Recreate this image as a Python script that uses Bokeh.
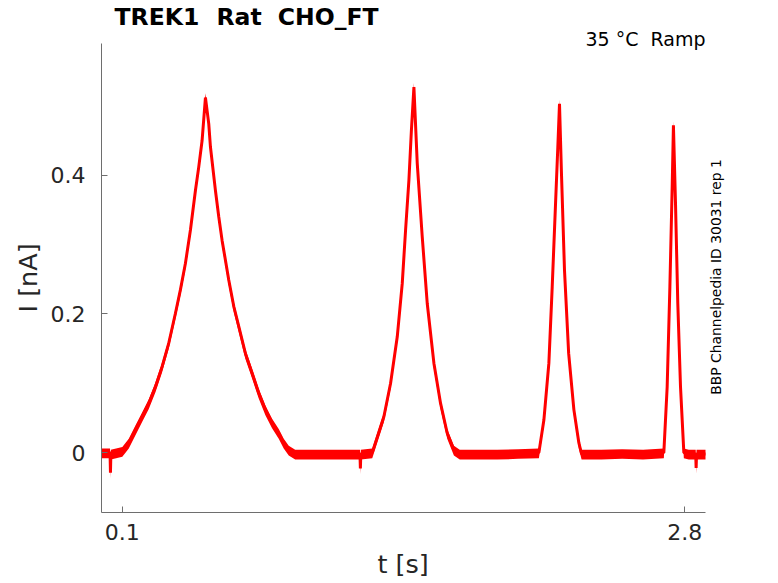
import numpy as np
from bokeh.plotting import figure
from bokeh.models import Range1d, FixedTicker, Label, Title
from bokeh.embed import file_html
from bokeh.resources import INLINE

# ---- data ----
t_s = [0.0, 0.03, 0.041, 0.043, 0.045, 0.07, 0.1,
       0.131, 0.163, 0.195, 0.227, 0.259, 0.291, 0.323, 0.355, 0.379, 0.403, 0.427,
       0.451, 0.467, 0.483, 0.499,
       0.515, 0.523, 0.547, 0.563, 0.579, 0.611, 0.635, 0.659, 0.691, 0.723, 0.755,
       0.787, 0.819, 0.851, 0.875, 0.899, 0.93,
       1.0, 1.1, 1.2, 1.241, 1.243, 1.245, 1.3,
       1.356, 1.388, 1.42, 1.444, 1.46, 1.476, 1.488, 1.5,
       1.516, 1.54, 1.564, 1.596, 1.628, 1.66, 1.692, 1.72,
       1.8, 1.9, 2.0, 2.1,
       2.124, 2.148, 2.164, 2.18, 2.191, 2.199,
       2.208, 2.223, 2.243, 2.268, 2.292, 2.305,
       2.4, 2.5, 2.6, 2.7,
       2.716, 2.729, 2.74, 2.746, 2.756, 2.767, 2.78, 2.796,
       2.82, 2.853, 2.855, 2.857, 2.9]
i_nA = [0.0, 0.0, 0.0, -0.029, -0.002, 0.0, 0.002,
        0.014, 0.033, 0.052, 0.071, 0.095, 0.124, 0.158, 0.201, 0.235, 0.273, 0.321,
        0.378, 0.412, 0.45, 0.512,
        0.474, 0.441, 0.378, 0.34, 0.306, 0.249, 0.211, 0.182, 0.143, 0.115, 0.086,
        0.062, 0.043, 0.028, 0.014, 0.004, -0.002,
        -0.002, -0.002, -0.002, -0.002, -0.023, -0.002, 0.0,
        0.052, 0.1, 0.167, 0.244, 0.321, 0.393, 0.465, 0.527,
        0.417, 0.311, 0.215, 0.129, 0.071, 0.028, 0.004, -0.002,
        -0.002, -0.002, -0.001, 0.0,
        0.047, 0.129, 0.239, 0.359, 0.441, 0.503,
        0.407, 0.263, 0.143, 0.062, 0.014, -0.002,
        -0.002, -0.001, -0.002, 0.0,
        0.095, 0.239, 0.383, 0.472, 0.359, 0.215, 0.095, 0.0,
        -0.002, -0.002, -0.022, -0.002, -0.002]
noise_up = 0.006     # upper extent of the recorded noise band [nA]
noise_down = 0.008   # lower extent of the recorded noise band [nA]

x_limits = (0.0, 2.9)
y_limits = (-0.08633, 0.59)
x_ticks = [0.1, 2.8]
x_tick_labels = ["0.1", "2.8"]
y_ticks = [0.0, 0.2, 0.4]
y_tick_labels = ["0", "0.2", "0.4"]

title_words = ["TREK1", "Rat", "CHO_FT"]     # "TREK1  Rat  CHO_FT"
cond_words = ["35 °C", "Ramp"]               # "35 °C  Ramp"
side_text = "BBP Channelpedia ID 30031 rep 1"
x_label = "t [s]"
y_label = "I [nA]"

# ---- figure ----
W, H = 778, 583
LEFT, BOTTOM = 101, 70
FONT = "DejaVu Sans"
TXT = "#262626"

px_per_x = (705 - LEFT) / (x_limits[1] - x_limits[0])
px_per_y = (H - BOTTOM - 43) / (y_limits[1] - y_limits[0])
x_end = x_limits[0] + (W - LEFT) / px_per_x
y_end = y_limits[0] + (H - BOTTOM) / px_per_y

p = figure(width=W, height=H, output_backend="svg", toolbar_location=None,
           x_range=Range1d(x_limits[0], x_end), y_range=Range1d(y_limits[0], y_end),
           min_border_left=LEFT, min_border_right=0, min_border_top=0, min_border_bottom=BOTTOM)
p.outline_line_color = None
p.grid.visible = False
p.background_fill_color = "white"
p.border_fill_color = "white"

for ax in (p.xaxis[0], p.yaxis[0]):
    ax.axis_line_color = "#6e6e6e"
    ax.axis_line_width = 1
    ax.major_tick_line_color = "#6e6e6e"
    ax.major_tick_in = 6
    ax.major_tick_out = 0
    ax.minor_tick_line_color = None
    ax.major_label_text_font = FONT
    ax.major_label_text_font_size = "22px"
    ax.major_label_text_color = TXT

p.xaxis.bounds = x_limits
p.yaxis.bounds = y_limits
p.xaxis.ticker = FixedTicker(ticks=x_ticks)
p.xaxis.major_label_overrides = {v: s for v, s in zip(x_ticks, x_tick_labels)}
p.xaxis.major_label_standoff = 11
p.yaxis.ticker = FixedTicker(ticks=y_ticks)
p.yaxis.major_label_overrides = {v: s for v, s in zip(y_ticks, y_tick_labels)}
p.yaxis.major_label_standoff = 16

t_arr = np.array(t_s)
i_arr = np.array(i_nA)
p.varea(x=t_arr, y1=i_arr - noise_down, y2=i_arr + noise_up, fill_color="#ff0000", fill_alpha=1.0)
p.line(t_arr, i_arr, line_color="#ff0000", line_width=3)

# axis titles (side panels)
p.add_layout(Title(text=x_label, align="left", offset=276,
                   text_font=FONT, text_font_size="25.5px", text_font_style="normal",
                   text_color=TXT, standoff=9), "below")
p.add_layout(Title(text=y_label, align="left", offset=200,
                   text_font=FONT, text_font_size="25.5px", text_font_style="normal",
                   text_color=TXT, standoff=9), "left")

# texts inside the frame (screen units relative to the frame's bottom-left)
for word, sx in zip(title_words, [13, 115, 176.3]):
    p.add_layout(Label(x=sx, y=496, x_units="screen", y_units="screen", text=word,
                       text_font=FONT, text_font_style="bold", text_font_size="23.5px",
                       text_color="black", text_align="left", text_baseline="alphabetic"))
for word, sx in zip(cond_words, [484, 549]):
    p.add_layout(Label(x=sx, y=474, x_units="screen", y_units="screen", text=word,
                       text_font=FONT, text_font_size="19px", text_color="black",
                       text_align="left", text_baseline="alphabetic"))
p.add_layout(Label(x=614.5, y=235.5, x_units="screen", y_units="screen", text=side_text,
                   angle=np.pi / 2, text_font=FONT, text_font_size="13.9px", text_color="black",
                   text_align="center", text_baseline="alphabetic"))

open("out.html", "w").write(file_html(p, INLINE))
